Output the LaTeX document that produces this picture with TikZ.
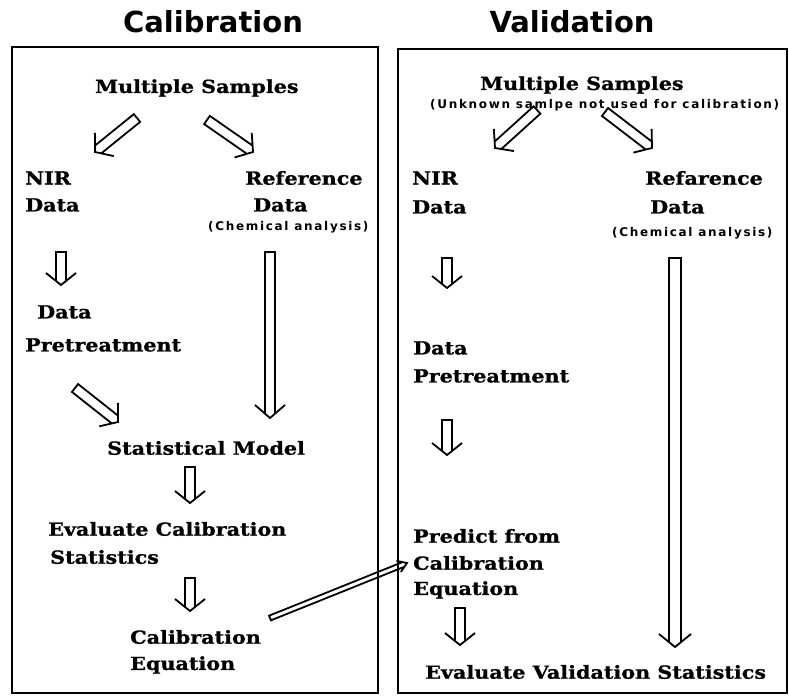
\documentclass[tikz,border=0pt]{standalone}
\usepackage{fontspec}
\setmainfont{DejaVu Serif}[FakeStretch=1.15, BoldFeatures={FakeBold=1}]
\newfontfamily\titlefont{DejaVu Sans}
\newfontfamily\smallfont{DejaVu Sans}[LetterSpace=14]
\usetikzlibrary{calc}
\newcommand\hollow[6][]{%
  \pgfmathsetmacro\hse{#6*#4/#5}%
  \path ($(#3)!\hse pt!(#2)$) coordinate (hsc) ($(#3)!#6pt!(#2)$) coordinate (hhb);
  \draw[hollowline,#1] ($(hsc)!#4pt!90:(#2)$) -- ($(#2)!#4pt!-90:(#3)$) -- ($(#2)!#4pt!90:(#3)$) -- ($(hsc)!#4pt!-90:(#2)$)
    ($(hhb)!#5pt!90:(#2)$) -- (#3) -- ($(hhb)!#5pt!-90:(#2)$);
}
\tikzset{
  x=1pt, y=-1pt,
  hollowline/.style={line width=1.8pt, line join=miter, line cap=butt},
  frame/.style={line width=1.8pt},
  lab/.style={anchor=west, inner sep=0pt, font=\fontsize{18}{21}\selectfont\bfseries},
  note/.style={anchor=west, inner sep=0pt, font=\smallfont\fontsize{12}{14}\selectfont\bfseries},
  title/.style={inner sep=0pt, font=\titlefont\fontsize{29}{32}\selectfont\bfseries}
}
\begin{document}
\begin{tikzpicture}
\useasboundingbox (0,0) rectangle (789,700);
\fill[white] (0,0) rectangle (789,700);
% frames
\draw[frame] (12,47) rectangle (378,693);
\draw[frame] (398,49) rectangle (787,693);
% titles
\node[title] (t1) at (213,22) {Calibration};
\node[title] (t2) at (572,22) {Validation};
% left column
\node[lab] (ms1) at (95,88) {Multiple Samples};
\node[lab] (nir1) at (25,178) {NIR};
\node[lab] (nd1) at (25,205) {Data};
\node[lab] (ref1) at (245,178) {Reference};
\node[lab] (rd1) at (253,205) {Data};
\node[note] (ca1) at (208,227) {(Chemical analysis)};
\node[lab] (dp1a) at (37,312) {Data};
\node[lab] (dp1b) at (25,345) {Pretreatment};
\node[lab] (sm) at (107,448) {Statistical Model};
\node[lab] (ev1) at (48,529) {Evaluate Calibration};
\node[lab] (ev2) at (50,557) {Statistics};
\node[lab] (ce1) at (130,637) {Calibration};
\node[lab] (ce2) at (130,665) {Equation};
% right column
\node[lab] (ms2) at (480,85) {Multiple Samples};
\node[note] (unk) at (430,105) {(Unknown samlpe not used for calibration)};
\node[lab] (nir2) at (412,178) {NIR};
\node[lab] (nd2) at (412,207) {Data};
\node[lab] (ref2) at (645,178) {Refarence};
\node[lab] (rd2) at (650,207) {Data};
\node[note] (ca2) at (612,233) {(Chemical analysis)};
\node[lab] (dp2a) at (413,348) {Data};
\node[lab] (dp2b) at (413,376) {Pretreatment};
\node[lab] (pr1) at (413,536) {Predict from};
\node[lab] (pr2) at (413,563) {Calibration};
\node[lab] (pr3) at (413,590) {Equation};
\node[lab] (evv) at (425,672) {Evaluate Validation Statistics};
% arrow endpoints
\coordinate (a1s) at (137,118); \coordinate (a1e) at (95,152);
\coordinate (a2s) at (207,120); \coordinate (a2e) at (253,152);
\coordinate (a3s) at (61,252);  \coordinate (a3e) at (61,285);
\coordinate (a4s) at (75,388);  \coordinate (a4e) at (118,422);
\coordinate (a5s) at (270,252); \coordinate (a5e) at (270,418);
\coordinate (a6s) at (190,467); \coordinate (a6e) at (190,503);
\coordinate (a7s) at (190,578); \coordinate (a7e) at (190,611);
\coordinate (a8s) at (270,618); \coordinate (a8e) at (407,563);
\coordinate (b1s) at (537,110); \coordinate (b1e) at (495,148);
\coordinate (b2s) at (605,112); \coordinate (b2e) at (652,148);
\coordinate (b3s) at (447,258); \coordinate (b3e) at (447,288);
\coordinate (b4s) at (447,420); \coordinate (b4e) at (447,455);
\coordinate (b5s) at (460,608); \coordinate (b5e) at (460,645);
\coordinate (b6s) at (675,258); \coordinate (b6e) at (675,647);
% arrows
\hollow{a1s}{a1e}{5}{15}{12}
\hollow{a2s}{a2e}{5}{15}{12}
\hollow{a3s}{a3e}{5}{15}{12}
\hollow{a4s}{a4e}{5}{15}{12}
\hollow{a5s}{a5e}{5}{15}{13}
\hollow{a6s}{a6e}{5}{15}{12}
\hollow{a7s}{a7e}{5}{15}{12}
\hollow{a8s}{a8e}{2.5}{6}{9}
\hollow{b1s}{b1e}{5}{15}{12}
\hollow{b2s}{b2e}{5}{15}{12}
\hollow{b3s}{b3e}{5}{15}{12}
\hollow{b4s}{b4e}{5}{15}{12}
\hollow{b5s}{b5e}{5}{15}{12}
\hollow{b6s}{b6e}{6}{16}{13}
\end{tikzpicture}
\end{document}
